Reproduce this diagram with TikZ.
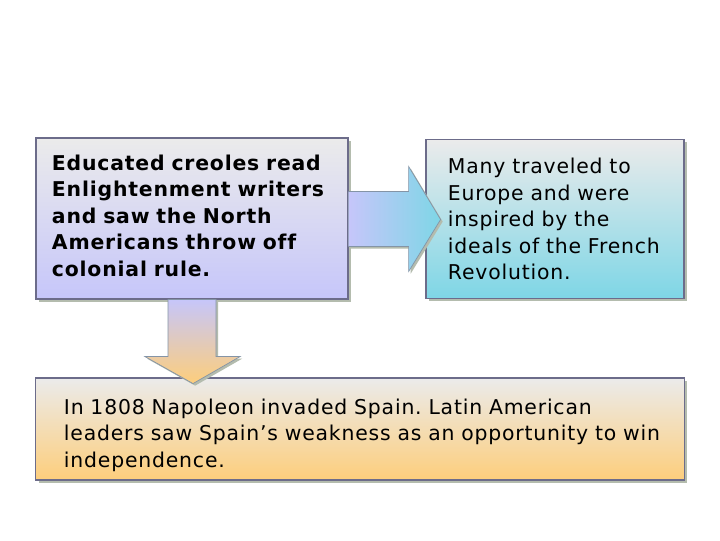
\documentclass[tikz,border=0pt]{standalone}
\usepackage{fontspec}
\setmainfont{DejaVu Sans}[LetterSpace=4, Ligatures=NoCommon]
\usetikzlibrary{calc,shadows}

\definecolor{boxtop}{HTML}{EBEBEB}
\definecolor{lavender}{HTML}{C6C6FA}
\definecolor{cyanish}{HTML}{7ED6E6}
\definecolor{orangish}{HTML}{FDCE7C}
\definecolor{boxline}{HTML}{6C6C8A}
\definecolor{arrowline}{HTML}{8494A6}
\definecolor{shadowgray}{HTML}{B4BCAE}

\newcommand{\ind}{\hspace*{0.4cm}}

\tikzset{
	textbox/.style={draw=boxline, line width=0.8pt, align=left,
		font=\fontsize{14.5}{18.8}\selectfont,
		general shadow={fill=shadowgray, shadow xshift=2pt, shadow yshift=-2pt}},
	blockarrow/.style={draw=arrowline, line width=0.5pt,
		general shadow={fill=shadowgray, shadow xshift=1.5pt, shadow yshift=-1.5pt}}
}

\frenchspacing
\begin{document}
\begin{tikzpicture}[x=0.025cm, y=-0.025cm]
	\fill[white] (0,0) rectangle (720,540);
	\useasboundingbox (0,0) rectangle (720,540);
	% the three boxes
	\node[textbox, top color=boxtop, bottom color=lavender, yshift=0pt,
		minimum width=7.8cm, minimum height=4.025cm, inner xsep=0.4cm, text width=7cm,
		font=\fontsize{14.5}{18.8}\selectfont\bfseries] (creoles) at (192,218.5)
		{Educated creoles read\\Enlightenment writers\\and saw the North\\Americans throw off\\colonial rule.\vspace{4pt}};
	\node[textbox, top color=boxtop, bottom color=cyanish,
		minimum width=6.45cm, minimum height=3.975cm, inner xsep=0.55cm, text width=5.35cm] (europe) at (555,219)
		{Many traveled to\\Europe and were\\inspired by the\\ideals of the French\\Revolution.};
	\node[textbox, top color=boxtop, bottom color=orangish, text height=20pt, inner ysep=2pt,
		minimum width=16.2cm, minimum height=2.55cm, inner xsep=0.3cm, text width=15.6cm] (napoleon) at (360,429)
		{\ind In 1808 Napoleon invaded Spain. Latin American\\\ind leaders saw Spain’s weakness as an opportunity to win\\\ind independence.};
	% block arrows
	\path[blockarrow, left color=lavender, right color=cyanish]
		($(creoles.east)+(0,-27)$) -- ++(60,0) -- ++(0,-25) -- ($(creoles.east)+(92,1)$)
		-- ($(creoles.east)+(60,53)$) -- ++(0,-25) -- ($(creoles.east)+(0,28)$) -- cycle;
	\path[blockarrow, top color=lavender, bottom color=orangish]
		($(creoles.south)+(-24,0)$) -- ++(0,57) -- ++(-23,0) -- ($(creoles.south)+(1,84)$)
		-- ($(creoles.south)+(48,57)$) -- ++(-24,0) -- ($(creoles.south)+(24,0)$) -- cycle;
\end{tikzpicture}
\end{document}
